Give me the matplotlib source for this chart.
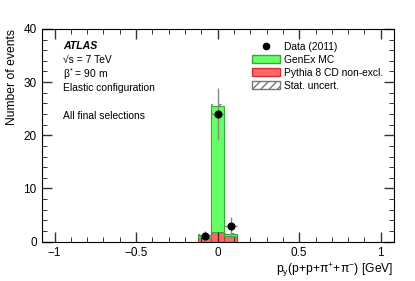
import numpy as np
import matplotlib
matplotlib.use('Agg')
import matplotlib.pyplot as plt
from matplotlib.patches import Patch
from matplotlib.lines import Line2D
from matplotlib.ticker import MultipleLocator

plt.rcParams['font.family'] = ['Liberation Sans', 'DejaVu Sans']
plt.rcParams['mathtext.fontset'] = 'custom'
plt.rcParams['mathtext.rm'] = 'Liberation Sans'
plt.rcParams['mathtext.it'] = 'Liberation Sans:italic'

# histogram bins (GeV)
bin_edges = [-0.12, -0.04, 0.04, 0.12]
pythia = [0.75, 1.75, 1.1]
genex = [0.55, 23.85, 0.35]
stat_unc = [0.15, 0.35, 0.25]

data_x = [-0.08, 0.0, 0.08]
data_y = [1, 24, 3]
data_yerr = [1.0, 4.9, 1.7]
data_xerr = [0.04, 0.04, 0.04]

edges = np.array(bin_edges)
lo = edges[:-1]
w = np.diff(edges)
pyth = np.array(pythia)
gen = np.array(genex)
tot = pyth + gen
unc = np.array(stat_unc)

fig = plt.figure(figsize=(4.15, 2.81), dpi=100)
ax = fig.add_axes([0.1, 0.14, 0.849, 0.757])

ax.bar(lo, pyth, width=w, align='edge', color='#ff6666', edgecolor='#cc3333', linewidth=0.8)
ax.bar(lo, gen, width=w, bottom=pyth, align='edge', color='#66ff66', edgecolor='#33aa33', linewidth=0.8)
ax.bar(lo, 2 * unc, width=w, bottom=tot - unc, align='edge', fill=False,
       hatch='////', edgecolor='#777777', linewidth=0)

ax.errorbar(data_x, data_y, yerr=data_yerr, xerr=data_xerr, fmt='o', color='black',
            ms=4.8, ecolor='#888888', elinewidth=1.0, capsize=0, zorder=5)

ax.set_xlim(-1.08, 1.08)
ax.set_ylim(0, 40)
ax.xaxis.set_major_locator(MultipleLocator(0.5))
ax.xaxis.set_minor_locator(MultipleLocator(0.1))
ax.yaxis.set_major_locator(MultipleLocator(10))
ax.yaxis.set_minor_locator(MultipleLocator(2))
ax.tick_params(which='both', direction='in', top=True, right=True, labelsize=8.5)
ax.tick_params(which='major', length=7, width=1.0, color='#333333')
ax.tick_params(which='minor', length=3.5, width=0.7, color='#333333')
ax.set_xticks([-1, -0.5, 0, 0.5, 1])
ax.set_xticklabels(['\u22121', '\u22120.5', '0', '0.5', '1'])

ax.set_ylabel('Number of events', fontsize=8.7, loc='top', labelpad=4)
ax.set_xlabel('p$_{\\mathrm{y}}$(p+p+\u03c0$^{+}$+\u03c0$^{-}$) [GeV]', fontsize=8.7, loc='right', labelpad=2)

tx = 0.062
ax.text(tx, 0.922, 'ATLAS', transform=ax.transAxes, fontsize=7.6,
        fontweight='bold', fontstyle='italic', va='center')
ax.text(tx, 0.856, '\u221as = 7 TeV', transform=ax.transAxes, fontsize=7.4, va='center')
ax.text(tx, 0.79, '\u03b2$^{*}$ = 90 m', transform=ax.transAxes, fontsize=7.4, va='center')
ax.text(tx, 0.724, 'Elastic configuration', transform=ax.transAxes, fontsize=7.4, va='center')
ax.text(tx, 0.592, 'All final selections', transform=ax.transAxes, fontsize=7.4, va='center')

handles = [
    Line2D([], [], marker='o', color='black', ls='none', ms=4.5),
    Patch(facecolor='#66ff66', edgecolor='#33aa33'),
    Patch(facecolor='#ff6666', edgecolor='#cc3333'),
    Patch(facecolor='white', edgecolor='#777777', hatch='////'),
]
labels = ['Data (2011)', 'GenEx MC', 'Pythia 8 CD non-excl.', 'Stat. uncert.']
ax.legend(handles, labels, loc='upper left', bbox_to_anchor=(0.585, 0.96), frameon=False,
          fontsize=7.4, handlelength=2.75, handleheight=0.8, labelspacing=0.3,
          handletextpad=0.4, borderaxespad=0)

fig.savefig('out.png', dpi=100)
